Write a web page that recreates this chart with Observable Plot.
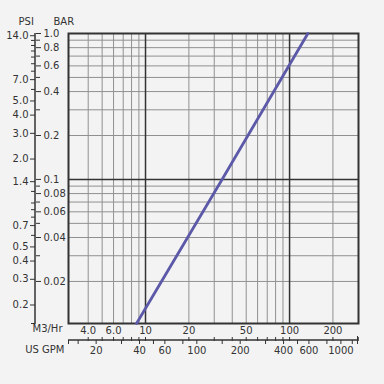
<!DOCTYPE html>
<html><head><meta charset="utf-8">
<script src="https://cdn.jsdelivr.net/npm/d3@7"></script>
<script src="https://cdn.jsdelivr.net/npm/@observablehq/plot@0.6"></script>
<style>
html,body{margin:0;padding:0;background:#f3f3f3;}
#chart{width:384px;height:384px;}
</style></head><body><div id="chart"></div>
<script>
// Data
const flowM3 = [8.66, 34, 134];          // flow, m3/hr
const dropBar = [0.0103, 0.1, 1.0];      // pressure drop, bar
const m3Labels = [4, 6, 10, 20, 50, 100, 200];
const m3Ticks = [4, 5, 6, 7, 8, 9, 10, 20, 30, 40, 50, 60, 70, 80, 90, 100, 200, 300];
const m3GridMinor = [4, 5, 6, 7, 8, 9, 20, 30, 40, 50, 60, 70, 80, 90, 200];
const m3GridMajor = [10, 100];
const gpmLabels = [20, 40, 60, 100, 200, 400, 600, 1000];
const gpmMinor = [15, 30, 50, 80, 150, 300, 500, 800, 1200];
const barLabels = [1.0, 0.8, 0.6, 0.4, 0.2, 0.1, 0.08, 0.06, 0.04, 0.02];
const barMinor = [0.9, 0.7, 0.5, 0.3, 0.09, 0.07, 0.05, 0.03];
const barGridMinor = [0.9, 0.8, 0.7, 0.6, 0.5, 0.4, 0.3, 0.2, 0.09, 0.08, 0.07, 0.06, 0.05, 0.04, 0.03, 0.02];
const barGridMajor = [0.1];
const psiLabels = [14.0, 7.0, 5.0, 4.0, 3.0, 2.0, 1.4, 0.7, 0.5, 0.4, 0.3, 0.2];
const psiMinor = [13, 12, 11, 10, 9, 8, 6, 1.2, 1.0, 0.9, 0.8, 0.6];
const psiPerBar = 14.5;
const gpmPerM3 = 4.403;

const W = 384, H = 384;
const mL = 68, mT = 33, mR = 26, mB = 61;
const leftAxisX = 35;      // pixel position of the PSI/BAR axis line
const gpmOffset = 17;      // distance of the US GPM axis below the frame

const fmtM3 = d => d < 10 ? d.toFixed(1) : String(d);
const fmtBar = d => d >= 0.1 ? d.toFixed(1) : d.toFixed(2);
const fmtPsi = d => (d * psiPerBar).toFixed(1);
const fmtGpm = d => String(Math.round(d * gpmPerM3));

const plot = Plot.plot({
  width: W, height: H,
  marginLeft: mL, marginTop: mT, marginRight: mR, marginBottom: mB,
  style: {background: "#f3f3f3", color: "#333", fontFamily: "DejaVu Sans, Verdana, sans-serif", fontSize: "10px"},
  x: {type: "log", domain: [2.92, 301]},
  y: {type: "log", domain: [0.0103, 1]},
  marks: [
    Plot.ruleX(m3GridMinor, {stroke: "#909090", strokeWidth: 1}),
    Plot.ruleY(barGridMinor, {stroke: "#909090", strokeWidth: 1}),
    Plot.ruleX(m3GridMajor, {stroke: "#333", strokeWidth: 1.5}),
    Plot.ruleY(barGridMajor, {stroke: "#333", strokeWidth: 1.5}),
    Plot.frame({stroke: "#333", strokeWidth: 2}),
    Plot.line(flowM3.map((x, i) => [x, dropBar[i]]), {stroke: "#5c59a8", strokeWidth: 2.8}),
    // PSI axis (left of the axis line)
    Plot.axisY(psiLabels.map(p => p / psiPerBar), {anchor: "left", dx: leftAxisX - mL, tickSize: 5, tickPadding: 2, text: fmtPsi, label: null}),
    Plot.axisY(psiMinor.map(p => p / psiPerBar), {anchor: "left", dx: leftAxisX - mL, tickSize: 4, text: () => "", label: null}),
    // BAR axis (right of the axis line)
    Plot.axisY(barLabels, {anchor: "right", dx: leftAxisX - (W - mR), tickSize: 5, tickPadding: 3, text: fmtBar, label: null}),
    Plot.axisY(barMinor, {anchor: "right", dx: leftAxisX - (W - mR), tickSize: 4, text: () => "", label: null}),
    // M3/Hr labels
    Plot.axisX(m3Labels, {anchor: "bottom", tickSize: 0, tickPadding: 3, text: fmtM3, label: null}),
    // US GPM axis
    Plot.axisX(m3Ticks, {anchor: "top", dy: (H - mB - mT) + gpmOffset, tickSize: 4, text: () => "", label: null}),
    Plot.axisX(gpmLabels.map(g => g / gpmPerM3), {anchor: "bottom", dy: gpmOffset, tickSize: 4, tickPadding: 2, text: fmtGpm, label: null}),
    Plot.axisX(gpmMinor.map(g => g / gpmPerM3), {anchor: "bottom", dy: gpmOffset, tickSize: 4, text: () => "", label: null}),
    // titles
    Plot.text(["PSI"], {frameAnchor: "top-left", dx: -50, dy: -16, text: d => d, fill: "#333"}),
    Plot.text(["BAR"], {frameAnchor: "top-left", dx: -15, dy: -16, text: d => d, fill: "#333"}),
    Plot.text(["M3/Hr"], {frameAnchor: "bottom-left", dx: -6, dy: 8, textAnchor: "end", text: d => d, fill: "#333"}),
    Plot.text(["US GPM"], {frameAnchor: "bottom-left", dx: -4, dy: 29, textAnchor: "end", text: d => d, fill: "#333"})
  ]
});

// axis lines
const svg = d3.select(plot);
svg.append("line").attr("x1", leftAxisX).attr("x2", leftAxisX).attr("y1", mT).attr("y2", H - mB + 1)
  .attr("stroke", "#333").attr("stroke-width", 1.5);
svg.append("line").attr("x1", leftAxisX - 4).attr("x2", leftAxisX).attr("y1", H - mB + 0.5).attr("y2", H - mB + 0.5)
  .attr("stroke", "#333");
svg.append("line").attr("x1", mL).attr("x2", W - mR).attr("y1", H - mB + gpmOffset).attr("y2", H - mB + gpmOffset)
  .attr("stroke", "#333").attr("stroke-width", 1.5);
svg.append("line").attr("x1", mL + 0.5).attr("x2", mL + 0.5).attr("y1", H - mB + gpmOffset).attr("y2", H - mB + gpmOffset + 4)
  .attr("stroke", "#333");
svg.append("line").attr("x1", W - mR - 0.5).attr("x2", W - mR - 0.5).attr("y1", H - mB + gpmOffset - 4).attr("y2", H - mB + gpmOffset + 4)
  .attr("stroke", "#333");

document.getElementById("chart").appendChild(plot);
</script></body></html>
